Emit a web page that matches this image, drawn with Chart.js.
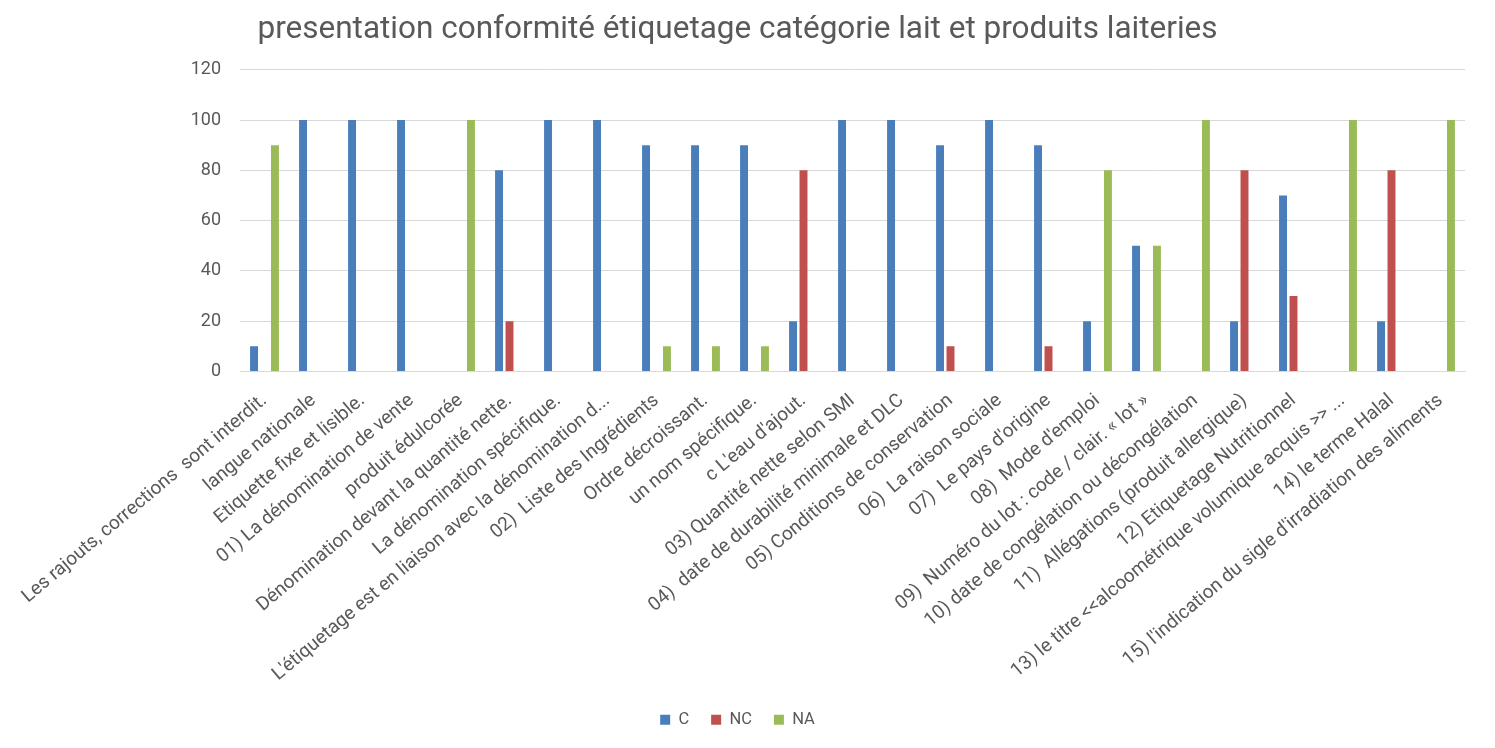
<!DOCTYPE html>
<html>
<head>
<meta charset="utf-8">
<title>Conformité étiquetage</title>
<script src="https://cdn.jsdelivr.net/npm/chart.js@4/dist/chart.umd.min.js"></script>
<style>
  html, body { margin: 0; padding: 0; background: #fff; }
  #wrap { width: 1495px; height: 748px; }
</style>
</head>
<body>
<div id="wrap"><canvas id="chart"></canvas></div>
<script>
const categories = [
    'Les rajouts, corrections  sont interdit.',
    'langue nationale',
    'Etiquette fixe et lisible.',
    '01) La dénomination de vente',
    'produit édulcorée',
    'Dénomination devant la quantité nette.',
    'La dénomination spécifique.',
    "L'étiquetage est en liaison avec la dénomination d...",
    '02)  Liste des Ingrédients',
    'Ordre décroissant.',
    'un nom spécifique.',
    "c L'eau d'ajout.",
    '03) Quantité nette selon SMI',
    '04)  date de durabilité minimale et DLC',
    '05) Conditions de conservation',
    '06)  La raison sociale',
    "07)  Le pays d'origine",
    "08)  Mode d'emploi",
    '09)  Numéro du lot : code / clair. « lot »',
    '10) date de congélation ou décongélation',
    '11)  Allégations (produit allergique)',
    '12) Etiquetage Nutritionnel',
    '13) le titre <<alcoométrique volumique acquis >> ...',
    '14) le terme Halal',
    "15) l'indication du sigle d'irradiation des aliments"
];

const valuesC  = [10, 100, 100, 100, 0, 80, 100, 100, 90, 90, 90, 20, 100, 100, 90, 100, 90, 20, 50, 0, 20, 70, 0, 20, 0];
const valuesNC = [0, 0, 0, 0, 0, 20, 0, 0, 0, 0, 0, 80, 0, 0, 10, 0, 10, 0, 0, 0, 80, 30, 0, 80, 0];
const valuesNA = [90, 0, 0, 0, 100, 0, 0, 0, 10, 10, 10, 0, 0, 0, 0, 0, 0, 80, 50, 100, 0, 0, 100, 0, 100];

const yTicks = [0, 20, 40, 60, 80, 100, 120];

const textColor = '#595959';
const gridColor = '#d9d9d9';

Chart.defaults.font.family = 'Roboto, "Noto Sans", sans-serif';
Chart.defaults.color = textColor;

function series(label, data, color) {
    return {
        label: label,
        data: data,
        backgroundColor: color,
        borderWidth: 0,
        categoryPercentage: 0.64,
        barPercentage: 0.76
    };
}

const ctx = document.getElementById('chart').getContext('2d');
new Chart(ctx, {
    type: 'bar',
    data: {
        labels: categories,
        datasets: [
            series('C', valuesC, '#4a7ebb'),
            series('NC', valuesNC, '#c0504d'),
            series('NA', valuesNA, '#9bbb59')
        ]
    },
    options: {
        responsive: true,
        maintainAspectRatio: false,
        animation: false,
        layout: { padding: { left: 10, right: 30, top: 9, bottom: 10 } },
        plugins: {
            title: {
                display: true,
                text: 'presentation conformité étiquetage catégorie lait et produits laiteries',
                color: textColor,
                font: { size: 31.5, weight: 'normal' },
                padding: { top: 2, bottom: 21 }
            },
            legend: {
                position: 'bottom',
                labels: {
                    boxWidth: 10,
                    boxHeight: 10,
                    padding: 22,
                    font: { size: 16.5 },
                    color: textColor
                }
            },
            tooltip: { enabled: false }
        },
        scales: {
            x: {
                afterFit: axis => { axis.height = 318; },
                grid: { display: false },
                border: { color: gridColor },
                ticks: {
                    autoSkip: false,
                    minRotation: 40,
                    maxRotation: 40,
                    padding: 10,
                    font: { size: 19 },
                    color: textColor
                }
            },
            y: {
                min: 0,
                max: 120,
                afterFit: axis => { axis.width = 230; },
                afterBuildTicks: axis => {
                    axis.ticks = yTicks.map(v => ({ value: v }));
                },
                grid: { color: gridColor, drawTicks: false },
                border: { display: false },
                ticks: {
                    padding: 19,
                    font: { size: 18 },
                    color: textColor
                }
            }
        }
    }
});
</script>
</body>
</html>
